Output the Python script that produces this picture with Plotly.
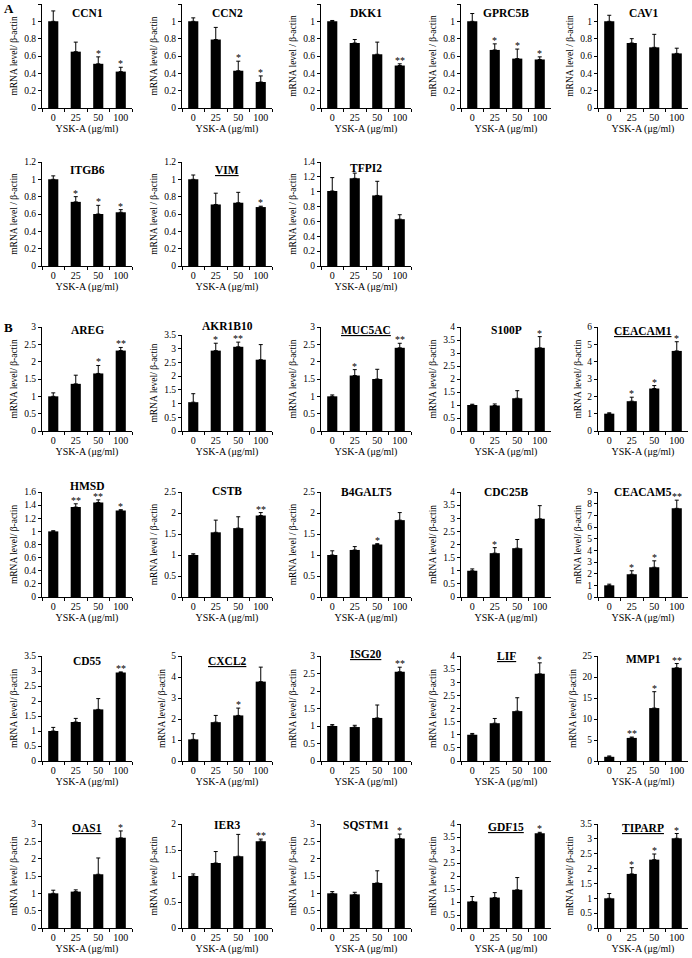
import plotly.graph_objects as go

# doses of YSK-A
doses = ["0", "25", "50", "100"]

# ---- panel A (down-regulated) ----
CCN1 = [1.0, 0.65, 0.51, 0.42]
CCN1_err = [0.12, 0.11, 0.08, 0.05]
CCN1_sig = ["", "", "*", "*"]

CCN2 = [1.0, 0.79, 0.43, 0.30]
CCN2_err = [0.04, 0.14, 0.11, 0.07]
CCN2_sig = ["", "", "*", "*"]

DKK1 = [1.0, 0.75, 0.62, 0.49]
DKK1_err = [0.01, 0.04, 0.14, 0.02]
DKK1_sig = ["", "", "", "**"]

GPRC5B = [1.0, 0.67, 0.57, 0.56]
GPRC5B_err = [0.09, 0.07, 0.11, 0.03]
GPRC5B_sig = ["", "*", "*", "*"]

CAV1 = [1.0, 0.75, 0.70, 0.63]
CAV1_err = [0.07, 0.05, 0.15, 0.06]
CAV1_sig = ["", "", "", ""]

ITGB6 = [1.0, 0.74, 0.60, 0.62]
ITGB6_err = [0.04, 0.06, 0.10, 0.03]
ITGB6_sig = ["", "*", "*", "*"]

VIM = [1.0, 0.71, 0.73, 0.68]
VIM_err = [0.05, 0.13, 0.12, 0.01]
VIM_sig = ["", "", "", "*"]

TFPI2 = [1.01, 1.18, 0.95, 0.63]
TFPI2_err = [0.18, 0.07, 0.19, 0.06]
TFPI2_sig = ["", "", "", ""]

# ---- panel B (up-regulated) ----
AREG = [1.0, 1.36, 1.66, 2.32]
AREG_err = [0.10, 0.25, 0.23, 0.09]
AREG_sig = ["", "", "*", "**"]

AKR1B10 = [1.05, 2.93, 3.07, 2.60]
AKR1B10_err = [0.31, 0.27, 0.17, 0.55]
AKR1B10_sig = ["", "*", "**", ""]

MUC5AC = [1.0, 1.60, 1.50, 2.40]
MUC5AC_err = [0.04, 0.17, 0.28, 0.13]
MUC5AC_sig = ["", "*", "", "**"]

S100P = [1.0, 0.98, 1.26, 3.20]
S100P_err = [0.03, 0.06, 0.29, 0.43]
S100P_sig = ["", "", "", "*"]

CEACAM1 = [1.0, 1.72, 2.45, 4.62]
CEACAM1_err = [0.05, 0.23, 0.17, 0.53]
CEACAM1_sig = ["", "*", "*", "*"]

HMSD = [1.0, 1.37, 1.44, 1.32]
HMSD_err = [0.01, 0.05, 0.04, 0.01]
HMSD_sig = ["", "**", "**", "*"]

CSTB = [1.0, 1.54, 1.64, 1.94]
CSTB_err = [0.03, 0.29, 0.27, 0.07]
CSTB_sig = ["", "", "", "**"]

B4GALT5 = [1.0, 1.12, 1.25, 1.83]
B4GALT5_err = [0.10, 0.08, 0.02, 0.18]
B4GALT5_sig = ["", "", "*", ""]

CDC25B = [1.0, 1.67, 1.86, 2.98]
CDC25B_err = [0.07, 0.21, 0.33, 0.50]
CDC25B_sig = ["", "*", "", ""]

CEACAM5 = [1.0, 1.95, 2.55, 7.60]
CEACAM5_err = [0.10, 0.30, 0.55, 0.70]
CEACAM5_sig = ["", "*", "*", "**"]

CD55 = [1.0, 1.30, 1.72, 2.95]
CD55_err = [0.12, 0.12, 0.36, 0.02]
CD55_sig = ["", "", "", "**"]

CXCL2 = [1.03, 1.85, 2.17, 3.78]
CXCL2_err = [0.27, 0.32, 0.35, 0.69]
CXCL2_sig = ["", "", "*", ""]

ISG20 = [1.0, 0.97, 1.23, 2.55]
ISG20_err = [0.04, 0.05, 0.37, 0.13]
ISG20_sig = ["", "", "", "**"]

LIF = [1.0, 1.44, 1.90, 3.32]
LIF_err = [0.05, 0.18, 0.51, 0.42]
LIF_sig = ["", "", "", "*"]

MMP1 = [1.0, 5.5, 12.6, 22.2]
MMP1_err = [0.2, 0.2, 3.9, 1.0]
MMP1_sig = ["", "**", "*", "**"]

OAS1 = [1.0, 1.05, 1.55, 2.60]
OAS1_err = [0.09, 0.05, 0.47, 0.20]
OAS1_sig = ["", "", "", "*"]

IER3 = [1.0, 1.25, 1.38, 1.67]
IER3_err = [0.04, 0.22, 0.42, 0.04]
IER3_sig = ["", "", "", "**"]

SQSTM1 = [1.0, 0.97, 1.30, 2.58]
SQSTM1_err = [0.05, 0.06, 0.35, 0.13]
SQSTM1_sig = ["", "", "", "*"]

GDF15 = [1.02, 1.17, 1.47, 3.64]
GDF15_err = [0.19, 0.19, 0.47, 0.04]
GDF15_sig = ["", "", "", "*"]

TIPARP = [1.0, 1.82, 2.30, 3.02]
TIPARP_err = [0.16, 0.21, 0.19, 0.16]
TIPARP_sig = ["", "*", "*", "*"]

LAB1 = "mRNA level/ β-actin"
LAB2 = "mRNA level / β-actin"

# name, values, err, sig, y max, dtick, y label, underlined, row, col
panels = [
    ("CCN1", CCN1, CCN1_err, CCN1_sig, 1.2, 0.2, LAB1, False, 0, 0),
    ("CCN2", CCN2, CCN2_err, CCN2_sig, 1.2, 0.2, LAB1, False, 0, 1),
    ("DKK1", DKK1, DKK1_err, DKK1_sig, 1.2, 0.2, LAB2, False, 0, 2),
    ("GPRC5B", GPRC5B, GPRC5B_err, GPRC5B_sig, 1.2, 0.2, LAB2, False, 0, 3),
    ("CAV1", CAV1, CAV1_err, CAV1_sig, 1.2, 0.2, LAB2, False, 0, 4),
    ("ITGB6", ITGB6, ITGB6_err, ITGB6_sig, 1.2, 0.2, LAB2, False, 1, 0),
    ("VIM", VIM, VIM_err, VIM_sig, 1.2, 0.2, LAB2, True, 1, 1),
    ("TFPI2", TFPI2, TFPI2_err, TFPI2_sig, 1.4, 0.2, LAB2, False, 1, 2),
    ("AREG", AREG, AREG_err, AREG_sig, 3, 0.5, LAB1, False, 2, 0),
    ("AKR1B10", AKR1B10, AKR1B10_err, AKR1B10_sig, 3.5, 0.5, LAB1, False, 2, 1),
    ("MUC5AC", MUC5AC, MUC5AC_err, MUC5AC_sig, 3, 0.5, LAB1, True, 2, 2),
    ("S100P", S100P, S100P_err, S100P_sig, 4, 0.5, LAB1, False, 2, 3),
    ("CEACAM1", CEACAM1, CEACAM1_err, CEACAM1_sig, 6, 1, LAB1, True, 2, 4),
    ("HMSD", HMSD, HMSD_err, HMSD_sig, 1.6, 0.2, LAB1, False, 3, 0),
    ("CSTB", CSTB, CSTB_err, CSTB_sig, 2.5, 0.5, LAB2, False, 3, 1),
    ("B4GALT5", B4GALT5, B4GALT5_err, B4GALT5_sig, 2.5, 0.5, LAB2, False, 3, 2),
    ("CDC25B", CDC25B, CDC25B_err, CDC25B_sig, 4, 0.5, LAB1, False, 3, 3),
    ("CEACAM5", CEACAM5, CEACAM5_err, CEACAM5_sig, 9, 1, LAB1, False, 3, 4),
    ("CD55", CD55, CD55_err, CD55_sig, 3.5, 0.5, LAB1, False, 4, 0),
    ("CXCL2", CXCL2, CXCL2_err, CXCL2_sig, 5, 1, LAB1, True, 4, 1),
    ("ISG20", ISG20, ISG20_err, ISG20_sig, 3, 0.5, LAB1, True, 4, 2),
    ("LIF", LIF, LIF_err, LIF_sig, 4, 0.5, LAB1, True, 4, 3),
    ("MMP1", MMP1, MMP1_err, MMP1_sig, 25, 5, LAB1, False, 4, 4),
    ("OAS1", OAS1, OAS1_err, OAS1_sig, 3, 0.5, LAB1, True, 5, 0),
    ("IER3", IER3, IER3_err, IER3_sig, 2, 0.5, LAB1, False, 5, 1),
    ("SQSTM1", SQSTM1, SQSTM1_err, SQSTM1_sig, 3, 0.5, LAB1, False, 5, 2),
    ("GDF15", GDF15, GDF15_err, GDF15_sig, 4, 0.5, LAB1, True, 5, 3),
    ("TIPARP", TIPARP, TIPARP_err, TIPARP_sig, 3.5, 0.5, LAB1, True, 5, 4),
]

W, H = 692, 958
col_px = [(42, 132), (182, 272), (321, 411), (461, 551), (598, 688)]
row_px = [(4, 108), (162, 266), (327, 431), (492, 597), (656, 761), (824, 928)]

# how far (px) the gene name sits below the top of its plot
title_drop = {
    "CCN1": 9, "CCN2": 9, "DKK1": 9, "GPRC5B": 9, "CAV1": 9,
    "ITGB6": 8, "VIM": 8, "TFPI2": 6,
    "AREG": 3, "AKR1B10": -9, "MUC5AC": 3, "S100P": 3, "CEACAM1": 4,
    "HMSD": -6, "CSTB": -1, "B4GALT5": 0, "CDC25B": 0, "CEACAM5": 0,
    "CD55": 5, "CXCL2": 5, "ISG20": -2, "LIF": 0, "MMP1": 3,
    "OAS1": 4, "IER3": 1, "SQSTM1": 1, "GDF15": 3, "TIPARP": 4,
}

FONT = "Liberation Serif"

fig = go.Figure()
annots = []

for i, (name, vals, err, sig, ymax, dt, ylab, ul, r, c) in enumerate(panels):
    n = "" if i == 0 else str(i + 1)
    x0, x1 = col_px[c]
    y0, y1 = row_px[r]
    if name == "AKR1B10":
        y0 = y0 + 8
    fig.add_trace(go.Bar(
        x=doses, y=vals, marker_color="black", marker_line_width=0,
        error_y=dict(type="data", symmetric=False, array=err, arrayminus=[0] * 4,
                     color="black", thickness=1, width=2),
        xaxis="x" + n, yaxis="y" + n, showlegend=False,
    ))
    fig.layout["xaxis" + n] = dict(
        domain=[x0 / W, x1 / W], anchor="y" + n, type="category",
        range=[-0.5, 3.5], showline=True, linecolor="black", linewidth=1,
        ticks="outside", tickson="boundaries", ticklen=3, tickcolor="black",
        tickangle=0,
        tickfont=dict(family=FONT, size=10, color="black"),
        title=dict(text="YSK-A (μg/ml)", standoff=1,
                   font=dict(family=FONT, size=10, color="black")),
        showgrid=False, zeroline=False, automargin=False,
    )
    fig.layout["yaxis" + n] = dict(
        domain=[1 - y1 / H, 1 - y0 / H], anchor="x" + n,
        range=[0, ymax], dtick=dt, showline=True, linecolor="black", linewidth=1,
        ticks="outside", ticklen=3, tickcolor="black",
        tickfont=dict(family=FONT, size=9.5, color="black"),
        title=dict(text=ylab, standoff=4,
                   font=dict(family=FONT, size=9.5, color="black")),
        showgrid=False, zeroline=False, automargin=False,
    )
    # gene name on top
    t = "<b>" + name + "</b>"
    if ul:
        t = "<u>" + t + "</u>"
    annots.append(dict(
        text=t, xref="x" + n + " domain", yref="y" + n + " domain",
        x=0.5, y=1, yanchor="middle", yshift=-title_drop[name], showarrow=False,
        font=dict(family=FONT, size=11.5, color="black"),
    ))
    # significance marks (category index as x)
    for j, (v, e, s) in enumerate(zip(vals, err, sig)):
        if s:
            annots.append(dict(
                text=s, xref="x" + n, yref="y" + n, x=j, y=v + e,
                yanchor="bottom", yshift=-4, showarrow=False,
                font=dict(family=FONT, size=10, color="black"),
            ))

annots.append(dict(text="<b>A</b>", xref="paper", yref="paper", x=2 / W, y=1 - 8 / H,
                   xanchor="left", yanchor="middle", showarrow=False,
                   font=dict(family=FONT, size=13, color="black")))
annots.append(dict(text="<b>B</b>", xref="paper", yref="paper", x=2 / W, y=1 - 328 / H,
                   xanchor="left", yanchor="middle", showarrow=False,
                   font=dict(family=FONT, size=13, color="black")))

fig.update_layout(
    width=W, height=H, margin=dict(l=0, r=0, t=0, b=0),
    paper_bgcolor="white", plot_bgcolor="white",
    bargap=0.55, annotations=annots,
    font=dict(family=FONT, color="black"),
)

fig.write_html("out.html", config={"displayModeBar": False},
               post_script="document.body.style.margin='0';")
